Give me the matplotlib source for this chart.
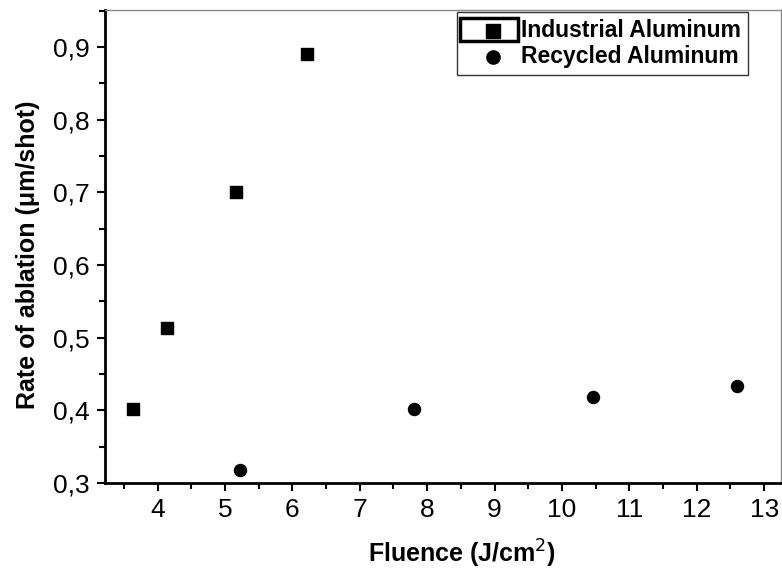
import matplotlib.pyplot as plt
from matplotlib.ticker import MultipleLocator, FuncFormatter
from matplotlib.patches import Rectangle

plt.rcParams['font.family'] = ['Liberation Sans', 'DejaVu Sans']

ind_x = [3.63, 4.14, 5.16, 6.22]
ind_y = [0.402, 0.513, 0.700, 0.891]
rec_x = [5.23, 7.81, 10.46, 12.60]
rec_y = [0.318, 0.402, 0.419, 0.433]

fig = plt.figure(figsize=(7.82, 5.69), dpi=100)
ax = fig.add_axes([105 / 782, 1 - 483 / 569, 676 / 782, 473 / 569])

ax.scatter(ind_x, ind_y, marker='s', s=75, color='black', label='Industrial Aluminum')
ax.scatter(rec_x, rec_y, marker='o', s=75, color='black', label='Recycled Aluminum')

ax.set_xlim(3.22, 13.25)
ax.set_ylim(0.3, 0.951)
ax.xaxis.set_major_locator(MultipleLocator(1))
ax.xaxis.set_minor_locator(MultipleLocator(0.5))
ax.yaxis.set_major_locator(MultipleLocator(0.1))
ax.yaxis.set_minor_locator(MultipleLocator(0.05))
ax.yaxis.set_major_formatter(FuncFormatter(lambda v, p: f"{v:.1f}".replace('.', ',')))

for s in ['left', 'bottom']:
    ax.spines[s].set_linewidth(2)
for s in ['top', 'right']:
    ax.spines[s].set_linewidth(1)
    ax.spines[s].set_color('#888888')

ax.tick_params(which='major', direction='out', length=6, width=1.5, labelsize=19, pad=5)
ax.tick_params(which='minor', direction='out', length=4, width=1.5)

ax.set_xlabel('Fluence (J/cm$^2$)', fontsize=18, fontweight='bold', labelpad=11)
ax.set_ylabel('Rate of ablation (\u03bcm/shot)', fontsize=18, fontweight='bold', labelpad=9)
ax.xaxis.label.set_x(0.528)
ax.yaxis.label.set_y(0.482)

leg = fig.legend(loc='upper left', bbox_to_anchor=(457 / 782, 1 - 12 / 569), frameon=True, fancybox=False,
                 edgecolor='black', prop={'weight': 'bold', 'size': 16.5}, handletextpad=0.0,
                 borderpad=0.3, labelspacing=0.15, handlelength=2.5, borderaxespad=0, markerscale=1.1)
leg.get_frame().set_linewidth(1)

fig.patches.append(Rectangle((460 / 782, 1 - 41 / 569), 58 / 782, 23 / 569, zorder=10,
                             transform=fig.transFigure, fill=False, edgecolor='black', linewidth=2.5))

fig.savefig('out.png', dpi=100)
